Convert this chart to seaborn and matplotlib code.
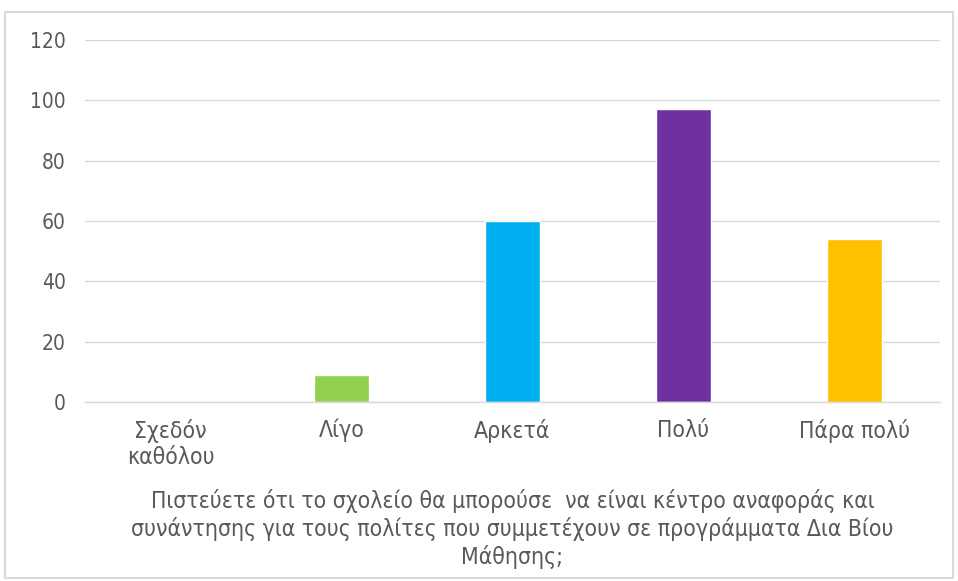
import pandas as pd
import seaborn as sns
import matplotlib.pyplot as plt
from matplotlib.patches import Rectangle

# Data
categories = ['Σχεδόν\nκαθόλου', 'Λίγο', 'Αρκετά', 'Πολύ', 'Πάρα πολύ']
counts = [0, 9, 60, 97, 54]
bar_colors = ['#A5A5A5', '#92D050', '#00B0F0', '#7030A0', '#FFC000']
y_ticks = [0, 20, 40, 60, 80, 100, 120]
question = ('Πιστεύετε ότι το σχολείο θα μπορούσε  να είναι κέντρο αναφοράς και\n'
            'συνάντησης για τους πολίτες που συμμετέχουν σε προγράμματα Δια Βίου\n'
            'Μάθησης;')

df = pd.DataFrame({'category': categories, 'count': counts})

sns.set_style('white')
plt.rcParams['font.family'] = ['DejaVu Sans']
plt.rcParams['font.stretch'] = 'condensed'

text_color = '#595959'
grid_color = '#D9D9D9'

fig = plt.figure(figsize=(9.58, 5.81), dpi=100)
ax = fig.add_axes([0.0887, 0.308, 0.8923, 0.623])

sns.barplot(data=df, x='category', y='count', hue='category',
            palette=bar_colors, legend=False, width=0.32, saturation=1, ax=ax)

ax.set_ylim(0, 120)
ax.set_yticks(y_ticks)
ax.yaxis.grid(True, color=grid_color, linewidth=1)
ax.set_axisbelow(True)
for side in ['top', 'right', 'left']:
    ax.spines[side].set_visible(False)
ax.spines['bottom'].set_color(grid_color)
ax.spines['bottom'].set_linewidth(1)

ax.tick_params(axis='y', length=0, labelsize=15, colors=text_color, pad=14)
ax.tick_params(axis='x', length=0, labelsize=16.5, colors=text_color, pad=12)
for lbl in ax.get_xticklabels():
    lbl.set_linespacing(1.2)

ax.set_ylabel('')
ax.set_xlabel(question, fontsize=16.5, color=text_color, labelpad=14, linespacing=1.22)

# outer chart frame
fig.patches.append(Rectangle((0.005, 0.005), 0.99, 0.975, transform=fig.transFigure,
                             fill=False, edgecolor='#D9D9D9', linewidth=1.5))

fig.savefig('out.png', dpi=100)
